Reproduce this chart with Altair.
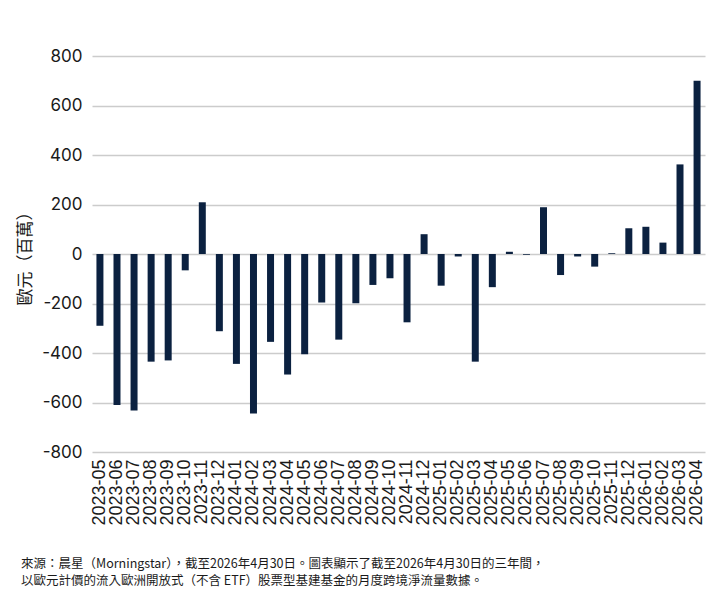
import altair as alt
import pandas as pd

# Monthly cross-border net flows, EUR millions
months = [
    "2023-05", "2023-06", "2023-07", "2023-08", "2023-09", "2023-10", "2023-11", "2023-12",
    "2024-01", "2024-02", "2024-03", "2024-04", "2024-05", "2024-06", "2024-07", "2024-08",
    "2024-09", "2024-10", "2024-11", "2024-12", "2025-01", "2025-02", "2025-03", "2025-04",
    "2025-05", "2025-06", "2025-07", "2025-08", "2025-09", "2025-10", "2025-11", "2025-12",
    "2026-01", "2026-02", "2026-03", "2026-04",
]
flows = [
    -290, -610, -632, -435, -430, -66, 209, -312,
    -444, -644, -355, -487, -405, -196, -346, -199,
    -125, -98, -276, 80, -128, -10, -435, -134,
    9, -3, 189, -85, -10, -51, 3, 104,
    110, 46, 362, 700,
]
y_ticks = [-800, -600, -400, -200, 0, 200, 400, 600, 800]

footnote_lines = [
    "來源：晨星（Morningstar），截至2026年4月30日。圖表顯示了截至2026年4月30日的三年間，",
    "以歐元計價的流入歐洲開放式（不含 ETF）股票型基建基金的月度跨境淨流量數據。",
]

df = pd.DataFrame({"month": months, "flow": flows})

BAR = "#0b2140"
CJK = "Noto Sans CJK TC"
INK = "#1a1a1a"

chart = (
    alt.Chart(df)
    .mark_bar(color=BAR)
    .encode(
        x=alt.X(
            "month:O",
            sort=None,
            scale=alt.Scale(paddingInner=0.59, paddingOuter=0.26),
            axis=alt.Axis(
                title=None,
                labelAngle=-90,
                labelFont="Liberation Sans",
                labelFontSize=18,
                labelColor=INK,
                labelPadding=7,
                ticks=False,
                domain=False,
                grid=False,
            ),
        ),
        y=alt.Y(
            "flow:Q",
            scale=alt.Scale(domain=[-800, 800], nice=False),
            axis=alt.Axis(
                title="歐元（百萬）",
                titleFont=CJK,
                titleFontSize=17,
                titleFontWeight="normal",
                titleColor=INK,
                titleAngle=-90,
                titleAlign="center",
                titleBaseline="middle",
                titleX=-67,
                titleY=198,
                values=y_ticks,
                labelExpr="toString(datum.value)",
                labelFont="Inter",
                labelFontSize=17,
                labelColor=INK,
                labelPadding=10,
                ticks=False,
                domain=False,
                grid=True,
                gridColor="#cccccc",
                gridWidth=1.5,
            ),
        ),
    )
    .properties(
        width=613,
        height=396,
        background="white",
        padding={"left": 92, "top": 56, "right": 14, "bottom": 141},
        autosize=alt.AutoSizeParams(type="none"),
        # source note set under the month labels
        title=alt.TitleParams(
            text=footnote_lines,
            orient="bottom",
            anchor="start",
            frame="bounds",
            font=CJK,
            fontSize=12.5,
            fontWeight="normal",
            color=INK,
            lineHeight=16.5,
            baseline="top",
            offset=33,
            dx=5,
        ),
    )
    .configure_view(strokeWidth=0)
)

chart.save("out.html", embed_options={"renderer": "svg", "actions": False})
